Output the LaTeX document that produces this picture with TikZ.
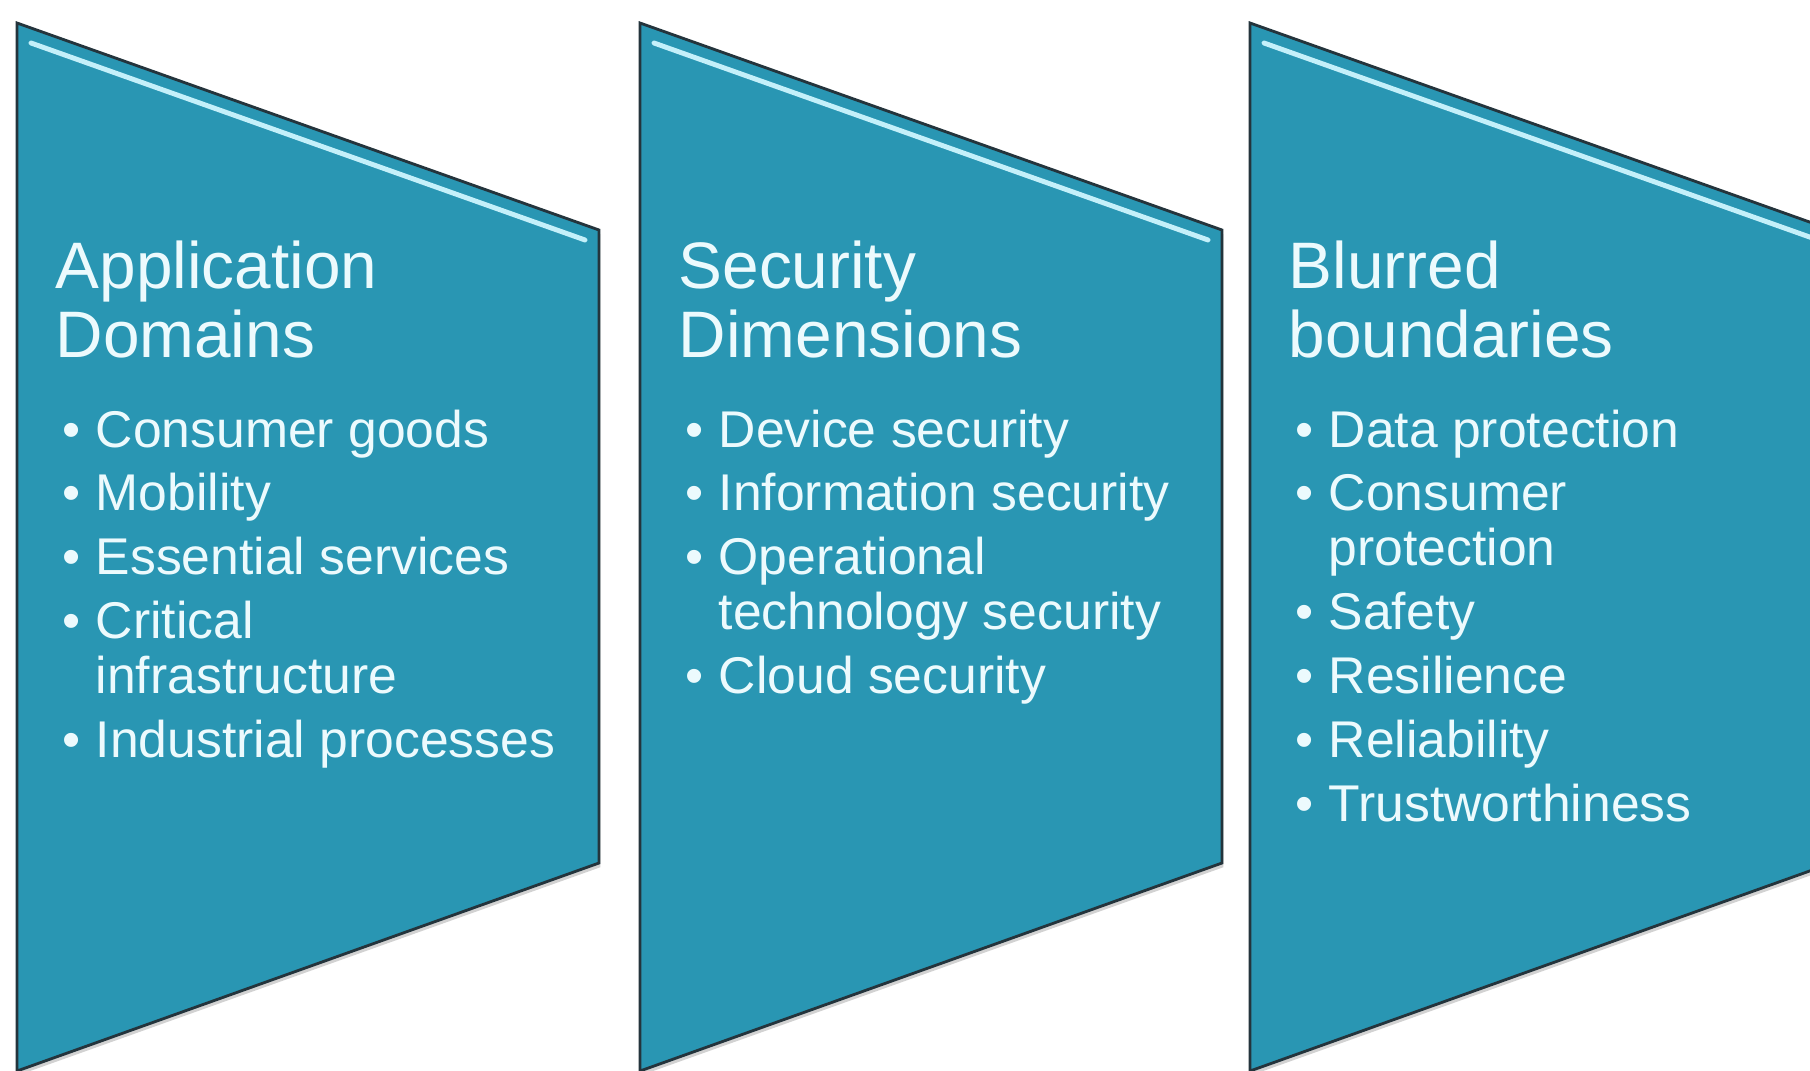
\documentclass[tikz,border=0pt]{standalone}
\usepackage{fontspec}
\setmainfont{Liberation Sans}
\usetikzlibrary{shadows}

\definecolor{azulpainel}{RGB}{41,150,179}
\definecolor{bordapainel}{RGB}{36,52,60}
\definecolor{correflexo}{RGB}{196,240,250}
\definecolor{textopainel}{RGB}{236,250,253}

\begin{document}
\begin{tikzpicture}[>=latex]

    % estilos
    \tikzstyle{painel}=[fill=azulpainel, draw=bordapainel, line width=0.8pt, drop shadow={shadow xshift=0.4pt, shadow yshift=-1.2pt, opacity=0.35}]
    \tikzstyle{reflexo}=[draw=correflexo, line width=1.4pt, line cap=round]
    \tikzstyle{titulo}=[anchor=base west, inner sep=0pt, text=textopainel, font=\fontsize{18.7}{19.8}\selectfont]
    \tikzstyle{lista}=[anchor=base west, inner sep=0pt, text=textopainel, font=\fontsize{14.7}{15.6}\selectfont]

    % area do desenho
    \clip (0,0) rectangle (18.10,10.70);
    \fill[white] (0,0) rectangle (18.10,10.70);

    % paineis
    \draw[painel] (0.17,10.47) -- (5.99,8.40) -- (5.99,2.07) -- (0.17,-0.01) -- cycle;
    \draw[painel] (6.40,10.47) -- (12.22,8.40) -- (12.22,2.07) -- (6.40,-0.01) -- cycle;
    \draw[painel] (12.50,10.47) -- (18.32,8.40) -- (18.32,2.07) -- (12.50,-0.01) -- cycle;

    % reflexos no topo
    \draw[reflexo] (0.31,10.27) -- (5.85,8.30);
    \draw[reflexo] (6.54,10.27) -- (12.08,8.30);
    \draw[reflexo] (12.64,10.27) -- (18.18,8.30);

    % titulos
    \node[titulo] (t1) at (0.55,7.82) {\begin{tabular}[t]{@{}l@{}}Application\\Domains\end{tabular}};
    \node[titulo] (t2) at (6.78,7.82) {\begin{tabular}[t]{@{}l@{}}Security\\Dimensions\end{tabular}};
    \node[titulo] (t3) at (12.88,7.82) {\begin{tabular}[t]{@{}l@{}}Blurred\\boundaries\end{tabular}};

    % listas
    \node[lista] (l1) at (0.62,6.23) {\begin{tabular}[t]{@{}l@{\hspace{0.15cm}}l@{}}
        \textbullet & Consumer goods\\[2.6pt]
        \textbullet & Mobility\\[2.6pt]
        \textbullet & Essential services\\[2.6pt]
        \textbullet & Critical\\
                    & infrastructure\\[2.6pt]
        \textbullet & Industrial processes
    \end{tabular}};
    \node[lista] (l2) at (6.85,6.23) {\begin{tabular}[t]{@{}l@{\hspace{0.15cm}}l@{}}
        \textbullet & Device security\\[2.6pt]
        \textbullet & Information security\\[2.6pt]
        \textbullet & Operational\\
                    & technology security\\[2.6pt]
        \textbullet & Cloud security
    \end{tabular}};
    \node[lista] (l3) at (12.95,6.23) {\begin{tabular}[t]{@{}l@{\hspace{0.15cm}}l@{}}
        \textbullet & Data protection\\[2.6pt]
        \textbullet & Consumer\\
                    & protection\\[2.6pt]
        \textbullet & Safety\\[2.6pt]
        \textbullet & Resilience\\[2.6pt]
        \textbullet & Reliability\\[2.6pt]
        \textbullet & Trustworthiness
    \end{tabular}};

\end{tikzpicture}
\end{document}
